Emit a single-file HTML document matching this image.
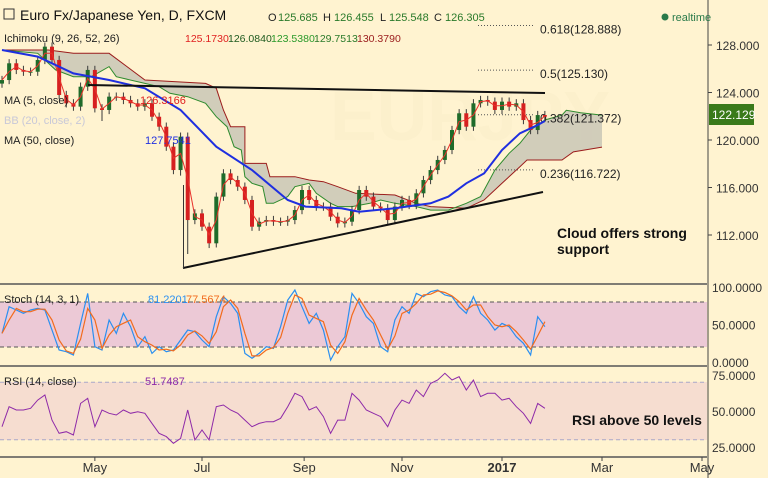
<!DOCTYPE html>
<html><head><meta charset="utf-8"><style>
html,body{margin:0;padding:0;background:#fff3d0;}
svg{display:block;font-family:"Liberation Sans",sans-serif;}
</style></head><body>
<svg id="c" width="768" height="478" viewBox="0 0 768 478">
<rect x="0" y="0" width="768" height="478" fill="#fff3d0"/>
<rect x="0" y="302" width="707" height="45" fill="#ecc9d6"/>
<rect x="0" y="382" width="707" height="58" fill="#f6ddd0"/>
<g id="g"></g>
</svg>
<script>
const closes=[125.05,126.46,125.90,125.75,125.75,126.74,127.86,126.74,123.79,123.09,122.81,124.49,125.90,122.67,122.53,123.65,123.65,123.37,123.09,122.81,123.09,121.96,121.12,119.44,117.47,120.28,113.26,113.82,112.70,111.30,115.23,117.19,116.63,116.07,114.95,112.70,113.12,113.26,113.12,113.12,113.26,114.10,115.79,114.95,114.39,114.39,113.54,112.98,113.12,114.10,115.79,115.23,114.39,114.25,113.26,114.39,114.95,114.53,115.51,116.63,117.47,118.32,119.16,120.84,122.25,121.12,123.09,123.37,123.23,122.53,123.23,122.81,123.09,121.68,120.84,122.10,121.96];
const lowOverrides=[[26,110.4],[29,110.9],[14,121.6],[25,117.0]];
const ma50=[[0,127.58],[5,127.02],[10,125.61],[15,125.05],[20,124.35],[25,122.53],[30,119.44],[35,117.47],[40,114.95],[42.5,114.39],[47.5,114.25],[50,113.96],[55,114.25],[60,114.67],[62.5,115.23],[65,116.35],[67.5,117.19],[70,119.16],[72.5,120.56],[75,121.26],[76,121.6]];
const spanB=[[0,127.58],[6.5,127.58],[10,127.30],[15,127.30],[17.5,126.18],[20,125.05],[28.5,124.77],[30,124.35],[31,122.53],[32,121.12],[34,121.12],[34,118.03],[37,118.03],[37.5,116.91],[41,116.91],[43,116.63],[45,116.49],[47,116.07],[49.5,115.51],[55,115.37],[58,114.67],[60,114.39],[65,114.25],[67.5,114.95],[70,116.35],[72.5,117.75],[73.5,118.32],[78.4,118.32],[80,119.0],[84,119.4]];
const spanA=[[0,127.58],[5,127.30],[7.5,125.90],[10,125.33],[12.5,125.33],[15,126.18],[16,125.33],[20,124.77],[22,124.49],[23.5,123.93],[26,123.65],[28.5,123.09],[30,121.96],[31.5,121.12],[32.5,119.44],[33.5,119.16],[34,116.91],[35,116.35],[36.5,116.07],[37,114.67],[38,114.67],[40,115.23],[41,116.07],[43,116.35],[44,115.51],[46,114.67],[47,114.39],[49,114.39],[51.5,114.67],[53,114.95],[55,114.67],[58,114.39],[60,114.10],[62.5,114.10],[65,114.67],[67,115.23],[69,117.47],[71,118.88],[72.5,119.72],[74,120.84],[76,121.68],[78.4,122.10],[79,122.5],[81,122.3],[84,122.1]];
const stochK=[38.2,73.7,69.3,64.9,69.3,71.5,69.3,42.6,16,13.7,9.3,51.5,91.5,20.4,16,56,38.2,64.9,47.1,20.4,33.7,11.5,20.4,13.7,16,29.3,42.6,40.4,29.3,20.4,60.4,87.1,78.2,64.9,11.5,4.9,11.5,20.4,18.2,47.1,82.6,96,73.7,51.5,64.9,42.6,2.6,20.4,33.7,91.5,78.2,60.4,51.5,20.4,13.7,56,73.7,64.9,91.5,87.1,93.7,96,89.3,87.1,73.7,64.9,87.1,64.9,56,42.6,51.5,47.1,33.7,24.9,9.3,60.4,47.1];
const rsi=[39.1,53,50.7,50.7,51.9,57.6,61.1,43.7,34.5,35.6,33.3,55.3,58.8,39.1,50.7,48.4,47.2,50.7,48.4,49.5,48.4,41.4,34.5,32.2,27.6,31,50.7,29.9,36.8,29.9,53,54.2,50.7,48.4,43.7,39.1,41.4,42.6,42.6,44.9,53,62.3,60,50.7,53,46.1,34.5,43.7,43.7,62.3,57.6,50.7,48.4,46.1,39.1,50.7,57.6,55.3,64.6,60,69.2,71.5,76.2,71.5,73.8,64.6,71.5,60,62.3,62.3,57.6,58.8,53,48.4,41.4,55.3,51.9];
const priceTicks=[128,124,120,116,112];
const monthLabels=["May","Jul","Sep","Nov","2017","Mar","May"];
const monthBars=[13,28,42.3,56,70,84,98];
const fibLabels=["0.618(128.888)","0.5(125.130)","0.382(121.372)","0.236(116.722)"];
const fibPrices=[128.888,125.130,121.372,116.722];
const stochTicks=[100,50,0];
const rsiTicks=[75,50,25];

const NS="http://www.w3.org/2000/svg";
const g=document.getElementById('g');
const X=b=>2+b*7.1429;
const Y=p=>45+(128-p)*11.875;
const YS=v=>362-v*0.75;
const YR=v=>411-(v-50)*1.44;
function el(t,a,txt){const e=document.createElementNS(NS,t);for(const k in a)e.setAttribute(k,a[k]);if(txt!=null)e.textContent=txt;g.appendChild(e);return e;}
function pts(arr,fx,fy){return arr.map(d=>fx(d[0]).toFixed(1)+","+fy(d[1]).toFixed(1)).join(" ");}

let wm=el('text',{x:330,y:140,'font-size':70,fill:'#fcf0cc','font-weight':'bold'},"EURJPY");



let cloudPts=spanA.map(d=>X(d[0]).toFixed(1)+","+Y(d[1]).toFixed(1));
for(let i=spanB.length-1;i>=0;i--)cloudPts.push(X(spanB[i][0]).toFixed(1)+","+Y(spanB[i][1]).toFixed(1));
let cl=el('polygon',{points:cloudPts.join(" "),fill:'#c9c6b6','fill-opacity':0.85});


let sb=el('polyline',{points:pts(spanB,X,Y),fill:'none',stroke:'#9b1c1c','stroke-width':1});


let sa=el('polyline',{points:pts(spanA,X,Y),fill:'none',stroke:'#2e8b2e','stroke-width':1});



fibPrices.forEach((p,i)=>{
  let l=el('line',{x1:478,x2:535,y1:Y(p)-9,y2:Y(p)-9,stroke:'#555','stroke-dasharray':'1,2','stroke-width':1});
  
  
  let t=el('text',{x:540,y:Y(p)-1,'font-size':12,fill:'#222'},fibLabels[i]);
  
  
});

const lowMap={};lowOverrides.forEach(d=>lowMap[d[0]]=d[1]);
closes.forEach((c,i)=>{
  const o=i===0?c-0.3:closes[i-1];
  const hi=Math.max(o,c)+0.35, lo=lowMap[i]!=null?lowMap[i]:Math.min(o,c)-0.35;
  const up=c>=o, col=up?'#1f6b2a':'#d62020';
  const x=X(i);
  let w=el('line',{x1:x,x2:x,y1:Y(hi),y2:Y(lo),stroke:'#3a3a3a','stroke-width':1});
  
  
  const yt=Y(Math.max(o,c)),yb=Y(Math.min(o,c));
  let r=el('rect',{x:x-2,y:yt,width:4,height:Math.max(1,yb-yt),fill:col});
  
  
});
const ma5=closes.map((c,i)=>{const s=closes.slice(Math.max(0,i-1),i+1);return [i,s.reduce((a,b)=>a+b,0)/s.length];});
let m5=el('polyline',{points:pts(ma5,X,Y),fill:'none',stroke:'#e8302a','stroke-width':1});


let m50=el('polyline',{points:pts(ma50,X,Y),fill:'none',stroke:'#1f2fe0','stroke-width':2});



let t1=el('line',{x1:88,y1:85,x2:545,y2:93,stroke:'#111','stroke-width':2});


let t2=el('line',{x1:183,y1:268,x2:543,y2:192,stroke:'#111','stroke-width':2});


let t3=el('line',{x1:183.5,y1:268,x2:183.5,y2:185,stroke:'#333','stroke-width':1});



[80,20].forEach(v=>{let l=el('line',{x1:0,x2:707,y1:YS(v),y2:YS(v),stroke:'#555','stroke-dasharray':'4,3'});});
const stochD=stochK.map((v,i)=>{const s=stochK.slice(Math.max(0,i-1),i+1);return [i,s.reduce((a,b)=>a+b,0)/s.length];});
let sk=el('polyline',{points:pts(stochK.map((v,i)=>[i,v]),X,YS),fill:'none',stroke:'#2b8ff0','stroke-width':1.2});


let sd=el('polyline',{points:pts(stochD,X,YS),fill:'none',stroke:'#f26b1d','stroke-width':1.2});



[70,30].forEach(v=>{let l=el('line',{x1:0,x2:707,y1:YR(v),y2:YR(v),stroke:'#a8a8c8','stroke-dasharray':'4,3'});});
let rl=el('polyline',{points:pts(rsi.map((v,i)=>[i,v]),X,YR),fill:'none',stroke:'#8e2aa8','stroke-width':1});



[[0,284,707,284],[0,366,707,366],[0,457,707,457]].forEach(d=>{let l=el('line',{x1:d[0],y1:d[1],x2:d[2],y2:d[3],stroke:'#555','stroke-width':1.5});});
let ax=el('line',{x1:708,y1:0,x2:708,y2:478,stroke:'#444','stroke-width':1});


priceTicks.forEach(p=>{
  let tk=el('line',{x1:708,x2:712,y1:Y(p),y2:Y(p),stroke:'#444'});
  let t=el('text',{x:716,y:Y(p)+5,'font-size':12,fill:'#333'},p.toFixed(3));
});
let lb=el('rect',{x:709,y:104,width:45,height:21,fill:'#3a7a1a'});


let lt=el('text',{x:712,y:119,'font-size':12,fill:'#fff'},"122.129");


stochTicks.forEach(v=>{let t=el('text',{x:712,y:YS(v)+5,'font-size':12,fill:'#333'},v.toFixed(4));});
rsiTicks.forEach(v=>{let t=el('text',{x:712,y:YR(v)+5,'font-size':12,fill:'#333'},v.toFixed(4));});
monthLabels.forEach((m,i)=>{
  const x=X(monthBars[i]);
  let tk=el('line',{x1:x,x2:x,y1:457,y2:461,stroke:'#444'});
  let t=el('text',{x:x,y:472,'font-size':13,fill:'#333','text-anchor':'middle','font-weight':m==="2017"?'bold':'normal'},m);
});

function txt(x,y,s,size,fill,name,extra){let t=el('text',Object.assign({x:x,y:y,'font-size':size,fill:fill},extra||{}),s);return t;}
let cb=el('rect',{x:4,y:9,width:10,height:10,fill:'none',stroke:'#333'});
txt(20,20,"Euro Fx/Japanese Yen, D, FXCM",14,'#111','chart-title');
txt(268,21,"O",11,'#222','open-label');txt(278,21,"125.685",11,'#2a7a2a','open-value');
txt(323,21,"H",11,'#222','high-label');txt(334,21,"126.455",11,'#2a7a2a','high-value');
txt(380,21,"L",11,'#222','low-label');txt(389,21,"125.548",11,'#2a7a2a','low-value');
txt(434,21,"C",11,'#222','close-label');txt(445,21,"126.305",11,'#2a7a2a','close-value');
let dot=el('circle',{cx:665,cy:17,r:3.5,fill:'#2a7a4a'});
txt(672,21,"realtime",11,'#2a7a4a','realtime-label');
txt(4,42,"Ichimoku (9, 26, 52, 26)",11,'#222','ichimoku-legend');
txt(185,42,"125.1730",10.5,'#e02020','ichimoku-v1');txt(228,42,"126.0840",10.5,'#1e5a1e','ichimoku-v2');
txt(271,42,"123.5380",10.5,'#2a9a2a','ichimoku-v3');txt(314,42,"129.7513",10.5,'#2a7a2a','ichimoku-v4');txt(357,42,"130.3790",10.5,'#9b1c1c','ichimoku-v5');
txt(4,104,"MA (5, close)",11,'#222','ma5-legend');txt(140,104,"126.3166",11,'#e02020','ma5-value');
txt(4,124,"BB (20, close, 2)",11,'#c8c8d8','bb-legend');
txt(4,144,"MA (50, close)",11,'#222','ma50-legend');txt(145,144,"127.7541",11,'#2030e0','ma50-value');
txt(4,303,"Stoch (14, 3, 1)",11,'#222','stoch-legend');txt(148,303,"81.2201",11,'#2b8ff0','stoch-k-value');txt(186,303,"77.5674",11,'#f26b1d','stoch-d-value');
txt(4,385,"RSI (14, close)",11,'#222','rsi-legend');txt(145,385,"51.7487",11,'#8e2aa8','rsi-value');
txt(557,238,"Cloud offers strong",14,'#111','cloud-annotation-1',{'font-weight':'bold'});
txt(557,254,"support",14,'#111','cloud-annotation-2',{'font-weight':'bold'});
txt(572,425,"RSI above 50 levels",14,'#111','rsi-annotation',{'font-weight':'bold'});
</script>
</body></html>
